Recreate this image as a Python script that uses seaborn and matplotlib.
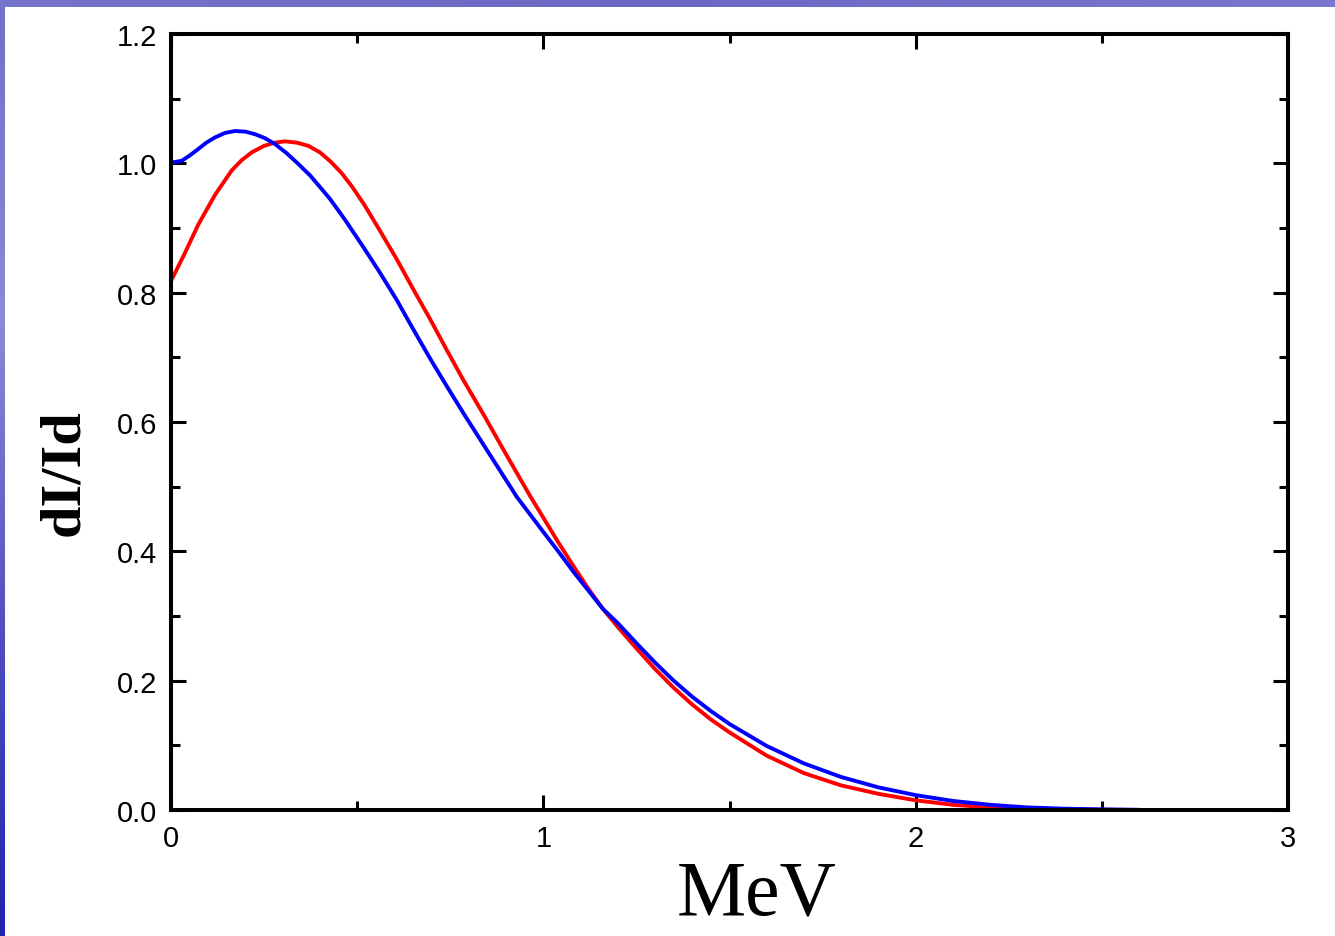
import numpy as np
import pandas as pd
import matplotlib
matplotlib.use("Agg")
import matplotlib.pyplot as plt
from matplotlib.ticker import MultipleLocator, FormatStrFormatter
import seaborn as sns

# ---- data ----
red_x = [0.0, 0.038, 0.073, 0.118, 0.163, 0.190, 0.217, 0.250, 0.279, 0.306, 0.338,
         0.369, 0.400, 0.430, 0.458, 0.485, 0.518, 0.560, 0.606, 0.650, 0.696, 0.740,
         0.785, 0.840, 0.893, 0.964, 1.0, 1.04, 1.08, 1.12, 1.16, 1.2, 1.25, 1.3, 1.35,
         1.4, 1.45, 1.5, 1.6, 1.7, 1.8, 1.9, 2.0, 2.1, 2.2, 2.3, 2.4, 2.5, 2.6]
red_y = [0.818, 0.862, 0.905, 0.951, 0.989, 1.005, 1.017, 1.027, 1.032, 1.034, 1.032,
         1.027, 1.017, 1.002, 0.985, 0.965, 0.937, 0.897, 0.852, 0.806, 0.759, 0.712,
         0.665, 0.611, 0.557, 0.486, 0.452, 0.414, 0.378, 0.343, 0.311, 0.283, 0.250,
         0.218, 0.189, 0.163, 0.140, 0.120, 0.084, 0.057, 0.038, 0.025, 0.015, 0.008,
         0.004, 0.002, 0.001, 0.0003, 0.0]

blue_x = [0.0, 0.029, 0.050, 0.073, 0.095, 0.118, 0.145, 0.172, 0.200, 0.226, 0.252,
          0.279, 0.310, 0.342, 0.374, 0.405, 0.427, 0.467, 0.516, 0.560, 0.606, 0.650,
          0.696, 0.740, 0.785, 0.848, 0.929, 1.0, 1.04, 1.08, 1.12, 1.16, 1.2, 1.25,
          1.3, 1.35, 1.4, 1.45, 1.5, 1.6, 1.7, 1.8, 1.9, 2.0, 2.1, 2.2, 2.3, 2.4, 2.5,
          2.6]
blue_y = [1.001, 1.004, 1.012, 1.022, 1.032, 1.040, 1.047, 1.050, 1.049, 1.045, 1.039,
          1.030, 1.016, 0.999, 0.981, 0.960, 0.945, 0.913, 0.871, 0.832, 0.789, 0.744,
          0.698, 0.656, 0.614, 0.557, 0.484, 0.430, 0.400, 0.369, 0.340, 0.311, 0.289,
          0.258, 0.228, 0.200, 0.175, 0.153, 0.133, 0.099, 0.072, 0.051, 0.035, 0.023,
          0.014, 0.008, 0.004, 0.002, 0.001, 0.0003]

x_ticks = [0, 1, 2, 3]
y_ticks = [0.0, 0.2, 0.4, 0.6, 0.8, 1.0, 1.2]
x_label = "MeV"
y_label = "dI/Id"

df = pd.concat([
    pd.DataFrame({"E": red_x, "v": red_y, "s": "red"}),
    pd.DataFrame({"E": blue_x, "v": blue_y, "s": "blue"}),
], ignore_index=True)

sns.set_theme(style="white")
plt.rcParams["font.family"] = ["Liberation Sans", "DejaVu Sans"]
plt.rcParams["text.color"] = "black"
plt.rcParams["axes.labelcolor"] = "black"
plt.rcParams["xtick.color"] = "black"
plt.rcParams["ytick.color"] = "black"
plt.rcParams["lines.solid_joinstyle"] = "round"

W, H = 1335, 937
fig = plt.figure(figsize=(W / 100, H / 100), dpi=100)
fig.patch.set_facecolor("white")

# slide-like decorative frame (top strip and left gradient strip)
top_ax = fig.add_axes([0, 1 - 8 / H, 1, 8 / H])
top_ax.imshow(np.linspace(0, 1, 200).reshape(1, -1), aspect="auto",
              cmap=matplotlib.colors.LinearSegmentedColormap.from_list("t", ["#7474cc", "#6a6ac4", "#7878d0"]))
top_ax.axis("off")
left_ax = fig.add_axes([0, 0, 5 / W, 1 - 8 / H])
left_ax.imshow(np.linspace(0, 1, 200).reshape(-1, 1), aspect="auto",
               cmap=matplotlib.colors.LinearSegmentedColormap.from_list("l", ["#7070c8", "#8a8ad6", "#5050c0", "#2222b0"]))
left_ax.axis("off")

ax = fig.add_axes([171 / W, (H - 811) / H, (1288 - 171) / W, (811 - 35) / H])
sns.lineplot(data=df, x="E", y="v", hue="s", palette={"red": "#ff0000", "blue": "#0000ff"},
             linewidth=2.8, legend=False, ax=ax, sort=False, estimator=None)

ax.set_xlim(0, 3)
ax.set_ylim(0, 1.2)
ax.set_xticks(x_ticks)
ax.set_yticks(y_ticks)
ax.xaxis.set_minor_locator(MultipleLocator(0.5))
ax.yaxis.set_minor_locator(MultipleLocator(0.1))
ax.yaxis.set_major_formatter(FormatStrFormatter("%.1f"))
ax.xaxis.set_major_formatter(FormatStrFormatter("%d"))

for sp in ax.spines.values():
    sp.set_linewidth(2.9)
    sp.set_color("black")
    sp.set_visible(True)

ax.tick_params(which="both", direction="in", top=True, right=True, bottom=True, left=True,
               width=2.2, colors="black", labelcolor="black")
ax.tick_params(which="major", length=11, labelsize=21, pad=10)
ax.tick_params(which="minor", length=6.5)

ax.set_xlabel(x_label, fontsize=56, color="black", family=["Liberation Serif", "DejaVu Serif"])
ax.set_ylabel(y_label, fontsize=42, color="black", fontweight="bold",
              family=["Liberation Serif", "DejaVu Serif"])
ax.xaxis.label.set_va("baseline")
ax.xaxis.set_label_coords((757 - 171) / 1117, (811 - 915) / 776)
ax.yaxis.label.set_va("baseline")
ax.yaxis.set_label_coords((78 - 171) / 1117, (811 - 473) / 776)

fig.savefig("out.png", dpi=100, facecolor="white")
